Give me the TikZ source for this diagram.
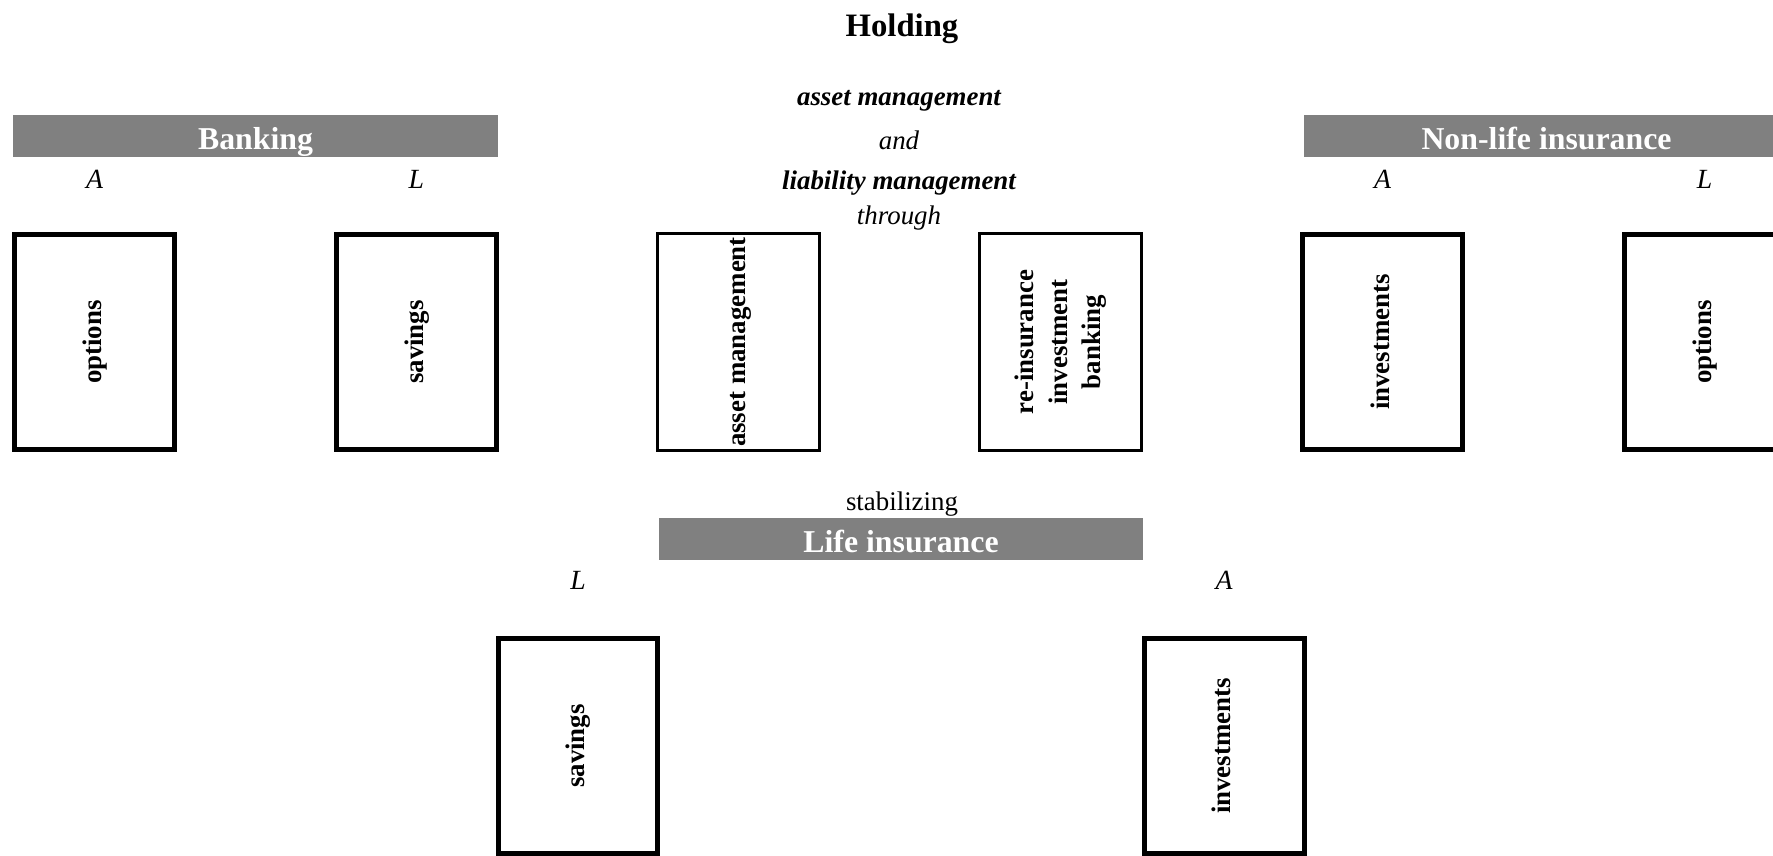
\documentclass[tikz,border=0pt]{standalone}
\usepackage{fontspec}
\setmainfont{Liberation Serif}
\usepackage{graphicx}
\usetikzlibrary{positioning}

\newcommand{\uptext}[1]{\rotatebox{90}{\begin{tabular}{@{}c@{}}#1\end{tabular}}}

\begin{document}
\begin{tikzpicture}[
    x=0.02cm, y=-0.02cm,
    node distance=3.14cm,
    every node/.style={inner sep=0pt, font=\fontsize{15.3}{19}\selectfont},
    thickbox/.style={draw, line width=0.1cm, minimum width=3.2cm, minimum height=4.3cm, font=\fontsize{15.3}{19}\selectfont\bfseries},
    thinbox/.style={thickbox, line width=1.5pt, minimum width=3.25cm, minimum height=4.35cm},
    sectorbar/.style={fill=black!50, text=white, minimum width=9.7cm, minimum height=0.84cm, text height=0.56cm, text depth=0.03cm, font=\fontsize{18.1}{22}\selectfont\bfseries},
    side/.style={anchor=base, font=\fontsize{15.8}{19}\selectfont\itshape},
    midline/.style={anchor=base, font=\fontsize{15.3}{19}\selectfont\itshape},
]
\useasboundingbox (0,0) rectangle (1773,855);

\node[anchor=base, font=\fontsize{18.6}{22}\selectfont\bfseries] (hold) at (902,37) {Holding};

% holding text
\node[midline] (mgA) at (899,106) {\bfseries asset management};
\node[midline] (mgB) at (899,149) {and};
\node[midline] (mgC) at (899,189) {\bfseries liability management};
\node[midline] (mgD) at (899,224) {through};

% top row
\node[thickbox] (bo) at (94.5,342) {\uptext{options}};
\node[thickbox, right=of bo] (bs) {\uptext{savings}};
\node[thinbox, right=of bs] (am) {\uptext{asset management}};
\node[thinbox, right=of am] (ri) {\uptext{re-insurance\\investment\\banking}};
\node[thickbox, right=of ri] (ni) {\uptext{investments}};
\node[thickbox, right=of ni] (no) {\uptext{options}};

\node[sectorbar] (bank) at (255.5,136) {Banking};
\node[sectorbar] (nonlife) at (1546.5,136) {Non-life insurance};
\node[side] (boA) at (bo |- 0,188) {A};
\node[side] (bsL) at (bs |- 0,188) {L};
\node[side] (niA) at (ni |- 0,188) {A};
\node[side] (noL) at (no |- 0,188) {L};

% life insurance
\node[anchor=base] (stab) at (902,510) {stabilizing};
\node[sectorbar] (life) at (901,539) {Life insurance};
\node[thickbox] (ls) at (578,746) {\uptext{savings}};
\node[thickbox] (li) at (1224,746) {\uptext{investments}};
\node[side] (lsL) at (ls |- 0,589) {L};
\node[side] (liA) at (li |- 0,589) {A};
\end{tikzpicture}
\end{document}
